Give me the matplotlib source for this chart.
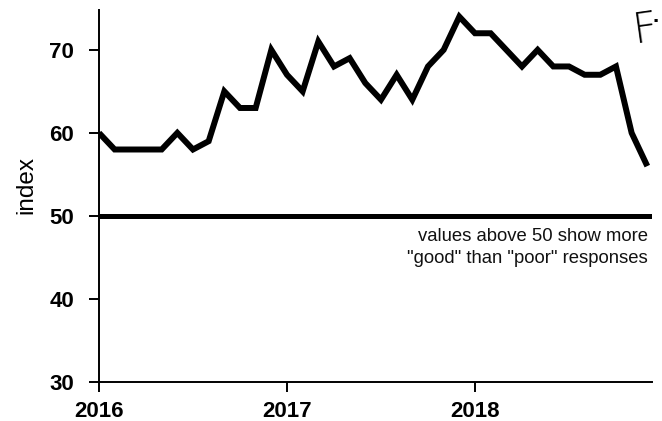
import matplotlib
matplotlib.use("Agg")
import matplotlib.pyplot as plt
import numpy as np

# monthly index, Jan 2016 .. Dec 2018
months = np.arange(36)
index_values = [60, 58, 58, 58, 58, 60, 58, 59, 65, 63, 63, 70,
                67, 65, 71, 68, 69, 66, 64, 67, 64, 68, 70, 74,
                72, 72, 70, 68, 70, 68, 68, 67, 67, 68, 60, 56]
year_ticks = [0, 12, 24]
year_labels = ["2016", "2017", "2018"]
y_ticks = [30, 40, 50, 60, 70]
threshold = 50
note_lines = ['values above 50 show more', '"good" than "poor" responses']

plt.rcParams['font.family'] = ['Liberation Sans', 'DejaVu Sans']

fig = plt.figure(figsize=(6.62, 4.21), dpi=100)
ax = fig.add_axes([99/662, 1-382/421, (652-99)/662, (382-10)/421])

ax.plot(months, index_values, color='black', lw=4.3, solid_joinstyle='miter',
        solid_capstyle='butt', zorder=3)
ax.axhline(threshold, color='black', lw=3.6, zorder=2)

ax.set_xlim(0, 35.3)
ax.set_ylim(30, 74.8)
ax.set_xticks(year_ticks)
ax.set_xticklabels(year_labels, fontsize=16, fontweight='bold')
ax.set_yticks(y_ticks)
ax.set_yticklabels([str(v) for v in y_ticks], fontsize=16, fontweight='bold')
ax.tick_params(axis='both', direction='out', length=7, width=1.4, colors='black')
ax.tick_params(axis='y', pad=11)
ax.tick_params(axis='x', pad=7)

for s in ['top', 'right']:
    ax.spines[s].set_visible(False)
for s in ['left', 'bottom']:
    ax.spines[s].set_linewidth(1.4)

ax.set_ylabel("index", fontsize=17.5)
ax.yaxis.set_label_coords(-0.112, 0.53)

ax.text(35.05, 46.93, note_lines[0], ha='right', va='baseline',
        fontsize=13.3, color='#111111')
ax.text(35.05, 44.34, note_lines[1], ha='right', va='baseline',
        fontsize=13.3, color='#111111')

fig.text(630/662, 1-43/421, "F", fontsize=31, fontweight='light',
         color='black', rotation=8, family='DejaVu Sans')
fig.text(656/662, 1-22/421, "·", fontsize=16, color='black',
         ha='center', va='center', fontweight='bold')

fig.savefig("out.png", dpi=100)
